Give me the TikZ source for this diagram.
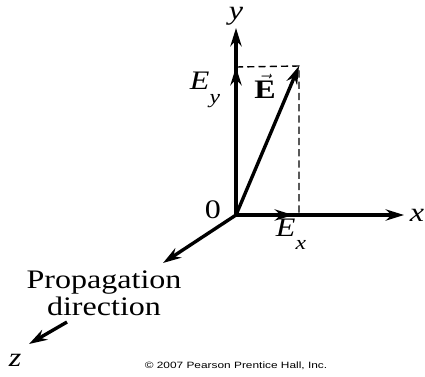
\documentclass[tikz,border=0pt]{standalone}
\usepackage{fontspec}
\setmainfont{Liberation Serif}[FakeStretch=1.2]
\newfontfamily\notefont{Liberation Sans}[FakeStretch=1.3]
\usetikzlibrary{positioning, calc, arrows.meta}

\begin{document}
\begin{tikzpicture}[
            x=0.025cm, y=-0.025cm,
            node distance=1pt and 1pt,
            axis/.style={-{Stealth[length=13pt, width=8pt]}, line width=2.4pt},
            comp/.style={axis},
            guide/.style={dashed, line width=1pt, dash pattern=on 5pt off 3pt},
            lbl/.style={inner sep=0pt, font=\fontsize{19}{22}\selectfont},
            note/.style={inner sep=0pt, font=\notefont\fontsize{6.5}{8}\selectfont}
        ]
            \useasboundingbox (0,0) rectangle (425,376);

            % --- points ---
            \coordinate (O) at (236,215);
            \coordinate (ytip) at (236,28);
            \coordinate (xtip) at (404,215);
            \coordinate (Ey) at (236,67);
            \coordinate (Ex) at (293,215);
            \coordinate (E) at (299,66);
            \coordinate (ztip) at (163,263);
            \coordinate (zfrom) at (67,322);
            \coordinate (zto) at (29,344);

            % --- axes and components ---
            \draw[axis] (O) -- (ytip);
            \draw[axis] (O) -- (xtip);
            \draw[axis] (O) -- (ztip);
            \draw[axis] (zfrom) -- (zto);
            \draw[comp] (O) -- (Ey);
            \draw[comp] (O) -- (Ex);
            \draw[guide] (Ey) -- (E) -- (E |- O);
            \draw[comp] (O) -- (E);

            % --- labels ---
            \node[lbl] (ylab) at (236,16) {\textit{y}};
            \node[lbl, right=4pt of xtip] (xlab) {\textit{x}};
            \node[lbl] (zlab) at (15,360) {\textit{z}};
            \node[lbl] (olab) at (213,210) {0};
            \node[lbl] (eylab) at (205,90) {\textit{E}\raisebox{-1.1ex}{\fontsize{14}{16}\selectfont\textit{y}}};
            \node[lbl] (exlab) at (291,234) {\textit{E}\raisebox{-1.1ex}{\fontsize{14}{16}\selectfont\textit{x}}};
            \node[lbl] (elab) at (265,86) {$\vec{\textbf{E}}$};
            \node[lbl, align=center] (prop) at (104,293) {Propagation\\[-3pt]direction};
            \node[note] (copy) at (236,366) {\textcopyright{} 2007 Pearson Prentice Hall, Inc.};

        \end{tikzpicture}
\end{document}
